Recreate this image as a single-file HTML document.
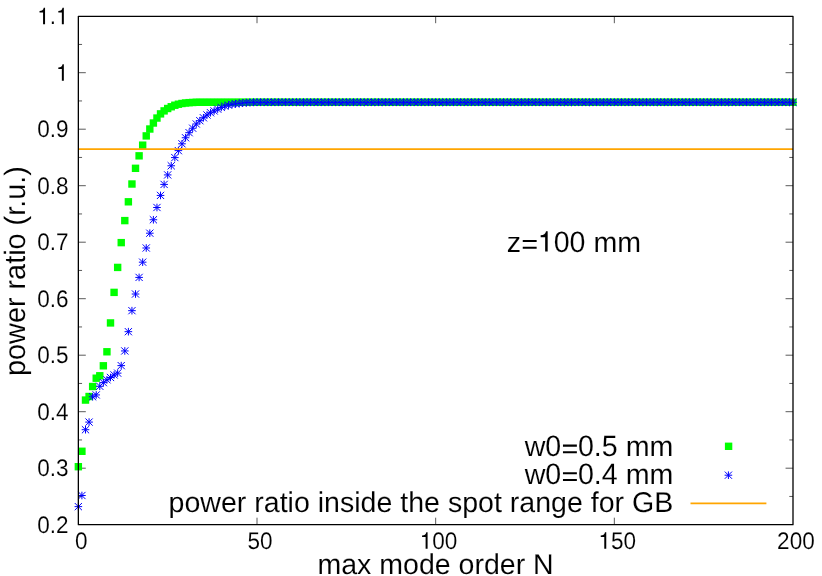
<!DOCTYPE html>
<html><head><meta charset="utf-8"><title>power ratio</title>
<style>html,body{margin:0;padding:0;background:#fff;}svg{display:block;will-change:transform;}text{font-family:"Liberation Sans",sans-serif;fill:#000;text-rendering:geometricPrecision;white-space:pre;stroke:#fff;stroke-width:0.1px;paint-order:fill stroke;}</style></head><body>
<svg width="822" height="576" viewBox="0 0 822 576">
<rect x="0" y="0" width="822" height="576" fill="#ffffff"/>
<path d="M78.35 496.45h3.70M793.00 496.45h-3.70M78.35 468.20h7.45M793.00 468.20h-7.45M78.35 439.95h3.70M793.00 439.95h-3.70M78.35 411.70h7.45M793.00 411.70h-7.45M78.35 383.45h3.70M793.00 383.45h-3.70M78.35 355.20h7.45M793.00 355.20h-7.45M78.35 326.95h3.70M793.00 326.95h-3.70M78.35 298.70h7.45M793.00 298.70h-7.45M78.35 270.45h3.70M793.00 270.45h-3.70M78.35 242.20h7.45M793.00 242.20h-7.45M78.35 213.95h3.70M793.00 213.95h-3.70M78.35 185.70h7.45M793.00 185.70h-7.45M78.35 157.45h3.70M793.00 157.45h-3.70M78.35 129.20h7.45M793.00 129.20h-7.45M78.35 100.95h3.70M793.00 100.95h-3.70M78.35 72.70h7.45M793.00 72.70h-7.45M78.35 44.45h3.70M793.00 44.45h-3.70M257.01 524.70v-7.00M257.01 16.20v7.00M435.67 524.70v-7.00M435.67 16.20v7.00M614.34 524.70v-7.00M614.34 16.20v7.00" stroke="#000" stroke-width="0.65" fill="none"/>
<g transform="translate(68.55 532.80)"><text transform="translate(-31.32 0) scale(0.967 1.027)" font-size="23.3">0</text><text transform="translate(-18.79 0) scale(0.967 1)" font-size="23.3">.</text><text transform="translate(-12.53 0) scale(0.967 1.027)" font-size="23.3">2</text></g>
<g transform="translate(68.55 476.30)"><text transform="translate(-31.32 0) scale(0.967 1.027)" font-size="23.3">0</text><text transform="translate(-18.79 0) scale(0.967 1)" font-size="23.3">.</text><text transform="translate(-12.53 0) scale(0.967 1.027)" font-size="23.3">3</text></g>
<g transform="translate(68.55 419.80)"><text transform="translate(-31.32 0) scale(0.967 1.027)" font-size="23.3">0</text><text transform="translate(-18.79 0) scale(0.967 1)" font-size="23.3">.</text><text transform="translate(-12.53 0) scale(0.967 1.027)" font-size="23.3">4</text></g>
<g transform="translate(68.55 363.30)"><text transform="translate(-31.32 0) scale(0.967 1.027)" font-size="23.3">0</text><text transform="translate(-18.79 0) scale(0.967 1)" font-size="23.3">.</text><text transform="translate(-12.53 0) scale(0.967 1.027)" font-size="23.3">5</text></g>
<g transform="translate(68.55 306.80)"><text transform="translate(-31.32 0) scale(0.967 1.027)" font-size="23.3">0</text><text transform="translate(-18.79 0) scale(0.967 1)" font-size="23.3">.</text><text transform="translate(-12.53 0) scale(0.967 1.027)" font-size="23.3">6</text></g>
<g transform="translate(68.55 250.30)"><text transform="translate(-31.32 0) scale(0.967 1.027)" font-size="23.3">0</text><text transform="translate(-18.79 0) scale(0.967 1)" font-size="23.3">.</text><text transform="translate(-12.53 0) scale(0.967 1.027)" font-size="23.3">7</text></g>
<g transform="translate(68.55 193.80)"><text transform="translate(-31.32 0) scale(0.967 1.027)" font-size="23.3">0</text><text transform="translate(-18.79 0) scale(0.967 1)" font-size="23.3">.</text><text transform="translate(-12.53 0) scale(0.967 1.027)" font-size="23.3">8</text></g>
<g transform="translate(68.55 137.30)"><text transform="translate(-31.32 0) scale(0.967 1.027)" font-size="23.3">0</text><text transform="translate(-18.79 0) scale(0.967 1)" font-size="23.3">.</text><text transform="translate(-12.53 0) scale(0.967 1.027)" font-size="23.3">9</text></g>
<g transform="translate(68.55 80.80)"><path transform="translate(-12.53 0) scale(0.02253 -0.02330)" d="M102 505H259V0H347V709H290C270 620 210 572 102 568Z"/></g>
<g transform="translate(68.55 24.30)"><path transform="translate(-31.32 0) scale(0.02253 -0.02330)" d="M102 505H259V0H347V709H290C270 620 210 572 102 568Z"/><text transform="translate(-18.79 0) scale(0.967 1)" font-size="23.3">.</text><path transform="translate(-12.53 0) scale(0.02253 -0.02330)" d="M102 505H259V0H347V709H290C270 620 210 572 102 568Z"/></g>
<g transform="translate(81.25 548.75)"><text transform="translate(-6.27 0) scale(0.967 1.027)" font-size="23.3">0</text></g>
<g transform="translate(259.91 548.75)"><text transform="translate(-12.53 0) scale(0.967 1.027)" font-size="23.3">50</text></g>
<g transform="translate(438.57 548.75)"><path transform="translate(-18.80 0) scale(0.02253 -0.02330)" d="M102 505H259V0H347V709H290C270 620 210 572 102 568Z"/><text transform="translate(-6.27 0) scale(0.967 1.027)" font-size="23.3">00</text></g>
<g transform="translate(617.24 548.75)"><path transform="translate(-18.80 0) scale(0.02253 -0.02330)" d="M102 505H259V0H347V709H290C270 620 210 572 102 568Z"/><text transform="translate(-6.27 0) scale(0.967 1.027)" font-size="23.3">50</text></g>
<g transform="translate(795.90 548.75)"><text transform="translate(-18.80 0) scale(0.967 1.027)" font-size="23.3">200</text></g>
<g transform="translate(435.60 573.90)"><text transform="translate(-118.18 0) scale(0.998 1)" font-size="28.6">max&#160;mode&#160;order&#160;N</text></g>
<g transform="translate(24.90 270.25) rotate(-90)"><text transform="translate(-105.74 0) scale(1.008 1.03)" font-size="28.6">power&#160;ratio&#160;(r.u.)</text></g>
<g transform="translate(573.90 251.60)"><text transform="translate(-67.16 0) scale(1 1)" font-size="28.6">z</text><path transform="translate(-52.86 0) scale(0.02860 -0.02860)" d="M60 100H546V172H60ZM60 334H546V406H60Z"/><path transform="translate(-36.15 0) scale(0.02860 -0.02860)" d="M102 505H259V0H347V709H290C270 620 210 572 102 568Z"/><text transform="translate(-20.25 0) scale(1 1.027)" font-size="28.6">00</text><text transform="translate(11.56 0) scale(1 1)" font-size="28.6">&#160;mm</text></g>
<g fill="#00ff00">
<rect x="74.65" y="463.00" width="7.4" height="7.4"/>
<rect x="78.22" y="447.58" width="7.4" height="7.4"/>
<rect x="81.80" y="396.37" width="7.4" height="7.4"/>
<rect x="85.37" y="392.81" width="7.4" height="7.4"/>
<rect x="88.94" y="382.81" width="7.4" height="7.4"/>
<rect x="92.52" y="374.51" width="7.4" height="7.4"/>
<rect x="96.09" y="372.08" width="7.4" height="7.4"/>
<rect x="99.66" y="362.09" width="7.4" height="7.4"/>
<rect x="103.24" y="348.08" width="7.4" height="7.4"/>
<rect x="106.81" y="319.23" width="7.4" height="7.4"/>
<rect x="110.38" y="288.68" width="7.4" height="7.4"/>
<rect x="113.96" y="263.72" width="7.4" height="7.4"/>
<rect x="117.53" y="238.93" width="7.4" height="7.4"/>
<rect x="121.10" y="216.90" width="7.4" height="7.4"/>
<rect x="124.68" y="198.10" width="7.4" height="7.4"/>
<rect x="128.25" y="180.31" width="7.4" height="7.4"/>
<rect x="131.82" y="164.61" width="7.4" height="7.4"/>
<rect x="135.40" y="152.13" width="7.4" height="7.4"/>
<rect x="138.97" y="141.46" width="7.4" height="7.4"/>
<rect x="142.54" y="132.20" width="7.4" height="7.4"/>
<rect x="146.12" y="125.31" width="7.4" height="7.4"/>
<rect x="149.69" y="119.32" width="7.4" height="7.4"/>
<rect x="153.26" y="114.35" width="7.4" height="7.4"/>
<rect x="156.83" y="110.18" width="7.4" height="7.4"/>
<rect x="160.41" y="107.18" width="7.4" height="7.4"/>
<rect x="163.98" y="104.81" width="7.4" height="7.4"/>
<rect x="167.55" y="103.06" width="7.4" height="7.4"/>
<rect x="171.13" y="101.54" width="7.4" height="7.4"/>
<rect x="174.70" y="100.52" width="7.4" height="7.4"/>
<rect x="178.27" y="99.79" width="7.4" height="7.4"/>
<rect x="181.85" y="99.28" width="7.4" height="7.4"/>
<rect x="185.42" y="98.94" width="7.4" height="7.4"/>
<rect x="188.99" y="98.77" width="7.4" height="7.4"/>
<rect x="192.57" y="98.60" width="7.4" height="7.4"/>
<rect x="196.14" y="98.60" width="7.4" height="7.4"/>
<rect x="199.71" y="98.60" width="7.4" height="7.4"/>
<rect x="203.29" y="98.60" width="7.4" height="7.4"/>
<rect x="206.86" y="98.60" width="7.4" height="7.4"/>
<rect x="210.43" y="98.60" width="7.4" height="7.4"/>
<rect x="214.01" y="98.60" width="7.4" height="7.4"/>
<rect x="217.58" y="98.60" width="7.4" height="7.4"/>
<rect x="221.15" y="98.60" width="7.4" height="7.4"/>
<rect x="224.73" y="98.60" width="7.4" height="7.4"/>
<rect x="228.30" y="98.60" width="7.4" height="7.4"/>
<rect x="231.87" y="98.60" width="7.4" height="7.4"/>
<rect x="235.45" y="98.60" width="7.4" height="7.4"/>
<rect x="239.02" y="98.60" width="7.4" height="7.4"/>
<rect x="242.59" y="98.60" width="7.4" height="7.4"/>
<rect x="246.17" y="98.60" width="7.4" height="7.4"/>
<rect x="249.74" y="98.60" width="7.4" height="7.4"/>
<rect x="253.31" y="98.60" width="7.4" height="7.4"/>
<rect x="256.89" y="98.60" width="7.4" height="7.4"/>
<rect x="260.46" y="98.60" width="7.4" height="7.4"/>
<rect x="264.03" y="98.60" width="7.4" height="7.4"/>
<rect x="267.61" y="98.60" width="7.4" height="7.4"/>
<rect x="271.18" y="98.60" width="7.4" height="7.4"/>
<rect x="274.75" y="98.60" width="7.4" height="7.4"/>
<rect x="278.33" y="98.60" width="7.4" height="7.4"/>
<rect x="281.90" y="98.60" width="7.4" height="7.4"/>
<rect x="285.47" y="98.60" width="7.4" height="7.4"/>
<rect x="289.05" y="98.60" width="7.4" height="7.4"/>
<rect x="292.62" y="98.60" width="7.4" height="7.4"/>
<rect x="296.19" y="98.60" width="7.4" height="7.4"/>
<rect x="299.76" y="98.60" width="7.4" height="7.4"/>
<rect x="303.34" y="98.60" width="7.4" height="7.4"/>
<rect x="306.91" y="98.60" width="7.4" height="7.4"/>
<rect x="310.48" y="98.60" width="7.4" height="7.4"/>
<rect x="314.06" y="98.60" width="7.4" height="7.4"/>
<rect x="317.63" y="98.60" width="7.4" height="7.4"/>
<rect x="321.20" y="98.60" width="7.4" height="7.4"/>
<rect x="324.78" y="98.60" width="7.4" height="7.4"/>
<rect x="328.35" y="98.60" width="7.4" height="7.4"/>
<rect x="331.92" y="98.60" width="7.4" height="7.4"/>
<rect x="335.50" y="98.60" width="7.4" height="7.4"/>
<rect x="339.07" y="98.60" width="7.4" height="7.4"/>
<rect x="342.64" y="98.60" width="7.4" height="7.4"/>
<rect x="346.22" y="98.60" width="7.4" height="7.4"/>
<rect x="349.79" y="98.60" width="7.4" height="7.4"/>
<rect x="353.36" y="98.60" width="7.4" height="7.4"/>
<rect x="356.94" y="98.60" width="7.4" height="7.4"/>
<rect x="360.51" y="98.60" width="7.4" height="7.4"/>
<rect x="364.08" y="98.60" width="7.4" height="7.4"/>
<rect x="367.66" y="98.60" width="7.4" height="7.4"/>
<rect x="371.23" y="98.60" width="7.4" height="7.4"/>
<rect x="374.80" y="98.60" width="7.4" height="7.4"/>
<rect x="378.38" y="98.60" width="7.4" height="7.4"/>
<rect x="381.95" y="98.60" width="7.4" height="7.4"/>
<rect x="385.52" y="98.60" width="7.4" height="7.4"/>
<rect x="389.10" y="98.60" width="7.4" height="7.4"/>
<rect x="392.67" y="98.60" width="7.4" height="7.4"/>
<rect x="396.24" y="98.60" width="7.4" height="7.4"/>
<rect x="399.82" y="98.60" width="7.4" height="7.4"/>
<rect x="403.39" y="98.60" width="7.4" height="7.4"/>
<rect x="406.96" y="98.60" width="7.4" height="7.4"/>
<rect x="410.54" y="98.60" width="7.4" height="7.4"/>
<rect x="414.11" y="98.60" width="7.4" height="7.4"/>
<rect x="417.68" y="98.60" width="7.4" height="7.4"/>
<rect x="421.26" y="98.60" width="7.4" height="7.4"/>
<rect x="424.83" y="98.60" width="7.4" height="7.4"/>
<rect x="428.40" y="98.60" width="7.4" height="7.4"/>
<rect x="431.97" y="98.60" width="7.4" height="7.4"/>
<rect x="435.55" y="98.60" width="7.4" height="7.4"/>
<rect x="439.12" y="98.60" width="7.4" height="7.4"/>
<rect x="442.69" y="98.60" width="7.4" height="7.4"/>
<rect x="446.27" y="98.60" width="7.4" height="7.4"/>
<rect x="449.84" y="98.60" width="7.4" height="7.4"/>
<rect x="453.41" y="98.60" width="7.4" height="7.4"/>
<rect x="456.99" y="98.60" width="7.4" height="7.4"/>
<rect x="460.56" y="98.60" width="7.4" height="7.4"/>
<rect x="464.13" y="98.60" width="7.4" height="7.4"/>
<rect x="467.71" y="98.60" width="7.4" height="7.4"/>
<rect x="471.28" y="98.60" width="7.4" height="7.4"/>
<rect x="474.85" y="98.60" width="7.4" height="7.4"/>
<rect x="478.43" y="98.60" width="7.4" height="7.4"/>
<rect x="482.00" y="98.60" width="7.4" height="7.4"/>
<rect x="485.57" y="98.60" width="7.4" height="7.4"/>
<rect x="489.15" y="98.60" width="7.4" height="7.4"/>
<rect x="492.72" y="98.60" width="7.4" height="7.4"/>
<rect x="496.29" y="98.60" width="7.4" height="7.4"/>
<rect x="499.87" y="98.60" width="7.4" height="7.4"/>
<rect x="503.44" y="98.60" width="7.4" height="7.4"/>
<rect x="507.01" y="98.60" width="7.4" height="7.4"/>
<rect x="510.59" y="98.60" width="7.4" height="7.4"/>
<rect x="514.16" y="98.60" width="7.4" height="7.4"/>
<rect x="517.73" y="98.60" width="7.4" height="7.4"/>
<rect x="521.31" y="98.60" width="7.4" height="7.4"/>
<rect x="524.88" y="98.60" width="7.4" height="7.4"/>
<rect x="528.45" y="98.60" width="7.4" height="7.4"/>
<rect x="532.03" y="98.60" width="7.4" height="7.4"/>
<rect x="535.60" y="98.60" width="7.4" height="7.4"/>
<rect x="539.17" y="98.60" width="7.4" height="7.4"/>
<rect x="542.75" y="98.60" width="7.4" height="7.4"/>
<rect x="546.32" y="98.60" width="7.4" height="7.4"/>
<rect x="549.89" y="98.60" width="7.4" height="7.4"/>
<rect x="553.47" y="98.60" width="7.4" height="7.4"/>
<rect x="557.04" y="98.60" width="7.4" height="7.4"/>
<rect x="560.61" y="98.60" width="7.4" height="7.4"/>
<rect x="564.19" y="98.60" width="7.4" height="7.4"/>
<rect x="567.76" y="98.60" width="7.4" height="7.4"/>
<rect x="571.33" y="98.60" width="7.4" height="7.4"/>
<rect x="574.90" y="98.60" width="7.4" height="7.4"/>
<rect x="578.48" y="98.60" width="7.4" height="7.4"/>
<rect x="582.05" y="98.60" width="7.4" height="7.4"/>
<rect x="585.62" y="98.60" width="7.4" height="7.4"/>
<rect x="589.20" y="98.60" width="7.4" height="7.4"/>
<rect x="592.77" y="98.60" width="7.4" height="7.4"/>
<rect x="596.34" y="98.60" width="7.4" height="7.4"/>
<rect x="599.92" y="98.60" width="7.4" height="7.4"/>
<rect x="603.49" y="98.60" width="7.4" height="7.4"/>
<rect x="607.06" y="98.60" width="7.4" height="7.4"/>
<rect x="610.64" y="98.60" width="7.4" height="7.4"/>
<rect x="614.21" y="98.60" width="7.4" height="7.4"/>
<rect x="617.78" y="98.60" width="7.4" height="7.4"/>
<rect x="621.36" y="98.60" width="7.4" height="7.4"/>
<rect x="624.93" y="98.60" width="7.4" height="7.4"/>
<rect x="628.50" y="98.60" width="7.4" height="7.4"/>
<rect x="632.08" y="98.60" width="7.4" height="7.4"/>
<rect x="635.65" y="98.60" width="7.4" height="7.4"/>
<rect x="639.22" y="98.60" width="7.4" height="7.4"/>
<rect x="642.80" y="98.60" width="7.4" height="7.4"/>
<rect x="646.37" y="98.60" width="7.4" height="7.4"/>
<rect x="649.94" y="98.60" width="7.4" height="7.4"/>
<rect x="653.52" y="98.60" width="7.4" height="7.4"/>
<rect x="657.09" y="98.60" width="7.4" height="7.4"/>
<rect x="660.66" y="98.60" width="7.4" height="7.4"/>
<rect x="664.24" y="98.60" width="7.4" height="7.4"/>
<rect x="667.81" y="98.60" width="7.4" height="7.4"/>
<rect x="671.38" y="98.60" width="7.4" height="7.4"/>
<rect x="674.96" y="98.60" width="7.4" height="7.4"/>
<rect x="678.53" y="98.60" width="7.4" height="7.4"/>
<rect x="682.10" y="98.60" width="7.4" height="7.4"/>
<rect x="685.68" y="98.60" width="7.4" height="7.4"/>
<rect x="689.25" y="98.60" width="7.4" height="7.4"/>
<rect x="692.82" y="98.60" width="7.4" height="7.4"/>
<rect x="696.40" y="98.60" width="7.4" height="7.4"/>
<rect x="699.97" y="98.60" width="7.4" height="7.4"/>
<rect x="703.54" y="98.60" width="7.4" height="7.4"/>
<rect x="707.12" y="98.60" width="7.4" height="7.4"/>
<rect x="710.69" y="98.60" width="7.4" height="7.4"/>
<rect x="714.26" y="98.60" width="7.4" height="7.4"/>
<rect x="717.83" y="98.60" width="7.4" height="7.4"/>
<rect x="721.41" y="98.60" width="7.4" height="7.4"/>
<rect x="724.98" y="98.60" width="7.4" height="7.4"/>
<rect x="728.55" y="98.60" width="7.4" height="7.4"/>
<rect x="732.13" y="98.60" width="7.4" height="7.4"/>
<rect x="735.70" y="98.60" width="7.4" height="7.4"/>
<rect x="739.27" y="98.60" width="7.4" height="7.4"/>
<rect x="742.85" y="98.60" width="7.4" height="7.4"/>
<rect x="746.42" y="98.60" width="7.4" height="7.4"/>
<rect x="749.99" y="98.60" width="7.4" height="7.4"/>
<rect x="753.57" y="98.60" width="7.4" height="7.4"/>
<rect x="757.14" y="98.60" width="7.4" height="7.4"/>
<rect x="760.71" y="98.60" width="7.4" height="7.4"/>
<rect x="764.29" y="98.60" width="7.4" height="7.4"/>
<rect x="767.86" y="98.60" width="7.4" height="7.4"/>
<rect x="771.43" y="98.60" width="7.4" height="7.4"/>
<rect x="775.01" y="98.60" width="7.4" height="7.4"/>
<rect x="778.58" y="98.60" width="7.4" height="7.4"/>
<rect x="782.15" y="98.60" width="7.4" height="7.4"/>
<rect x="785.73" y="98.60" width="7.4" height="7.4"/>
<rect x="789.30" y="98.60" width="7.4" height="7.4"/>
<rect x="724.90" y="442.60" width="7.4" height="7.4"/>
</g>
<path d="M74.55 506.62h7.60M78.35 502.82v7.60M74.74 503.01l7.22 7.22M74.74 510.23l7.22 -7.22M78.12 495.50h7.60M81.92 491.70v7.60M78.31 491.89l7.22 7.22M78.31 499.11l7.22 -7.22M81.70 429.71h7.60M85.50 425.91v7.60M81.89 426.10l7.22 7.22M81.89 433.32l7.22 -7.22M85.27 422.09h7.60M89.07 418.29v7.60M85.46 418.48l7.22 7.22M85.46 425.70l7.22 -7.22M88.84 396.79h7.60M92.64 392.99v7.60M89.03 393.18l7.22 7.22M89.03 400.40l7.22 -7.22M92.42 394.93h7.60M96.22 391.13v7.60M92.61 391.32l7.22 7.22M92.61 398.54l7.22 -7.22M95.99 386.29h7.60M99.79 382.49v7.60M96.18 382.68l7.22 7.22M96.18 389.90l7.22 -7.22M99.56 382.62h7.60M103.36 378.82v7.60M99.75 379.01l7.22 7.22M99.75 386.23l7.22 -7.22M103.14 379.79h7.60M106.94 375.99v7.60M103.33 376.18l7.22 7.22M103.33 383.40l7.22 -7.22M106.71 377.48h7.60M110.51 373.68v7.60M106.90 373.87l7.22 7.22M106.90 381.09l7.22 -7.22M110.28 374.94h7.60M114.08 371.14v7.60M110.47 371.33l7.22 7.22M110.47 378.55l7.22 -7.22M113.86 373.13h7.60M117.66 369.33v7.60M114.05 369.52l7.22 7.22M114.05 376.74l7.22 -7.22M117.43 365.62h7.60M121.23 361.82v7.60M117.62 362.01l7.22 7.22M117.62 369.23l7.22 -7.22M121.00 350.94h7.60M124.80 347.14v7.60M121.19 347.33l7.22 7.22M121.19 354.55l7.22 -7.22M124.58 331.68h7.60M128.38 327.88v7.60M124.77 328.07l7.22 7.22M124.77 335.29l7.22 -7.22M128.15 310.67h7.60M131.95 306.87v7.60M128.34 307.06l7.22 7.22M128.34 314.28l7.22 -7.22M131.72 294.02h7.60M135.52 290.22v7.60M131.91 290.41l7.22 7.22M131.91 297.63l7.22 -7.22M135.30 277.41h7.60M139.10 273.61v7.60M135.49 273.80l7.22 7.22M135.49 281.02l7.22 -7.22M138.87 262.17h7.60M142.67 258.37v7.60M139.06 258.56l7.22 7.22M139.06 265.78l7.22 -7.22M142.44 247.99h7.60M146.24 244.19v7.60M142.63 244.38l7.22 7.22M142.63 251.60l7.22 -7.22M146.01 233.20h7.60M149.81 229.40v7.60M146.20 229.59l7.22 7.22M146.20 236.81l7.22 -7.22M149.59 219.76h7.60M153.39 215.96v7.60M149.78 216.15l7.22 7.22M149.78 223.37l7.22 -7.22M153.16 207.50h7.60M156.96 203.70v7.60M153.35 203.89l7.22 7.22M153.35 211.11l7.22 -7.22M156.73 195.42h7.60M160.53 191.62v7.60M156.92 191.81l7.22 7.22M156.92 199.03l7.22 -7.22M160.31 184.41h7.60M164.11 180.61v7.60M160.50 180.80l7.22 7.22M160.50 188.02l7.22 -7.22M163.88 174.92h7.60M167.68 171.12v7.60M164.07 171.31l7.22 7.22M164.07 178.53l7.22 -7.22M167.45 165.77h7.60M171.25 161.97v7.60M167.64 162.16l7.22 7.22M167.64 169.38l7.22 -7.22M171.03 157.58h7.60M174.83 153.78v7.60M171.22 153.97l7.22 7.22M171.22 161.19l7.22 -7.22M174.60 150.64h7.60M178.40 146.84v7.60M174.79 147.03l7.22 7.22M174.79 154.25l7.22 -7.22M178.17 143.81h7.60M181.97 140.01v7.60M178.36 140.20l7.22 7.22M178.36 147.42l7.22 -7.22M181.75 137.76h7.60M185.55 133.96v7.60M181.94 134.15l7.22 7.22M181.94 141.37l7.22 -7.22M185.32 132.68h7.60M189.12 128.88v7.60M185.51 129.07l7.22 7.22M185.51 136.29l7.22 -7.22M188.89 128.22h7.60M192.69 124.42v7.60M189.08 124.61l7.22 7.22M189.08 131.83l7.22 -7.22M192.47 123.98h7.60M196.27 120.18v7.60M192.66 120.37l7.22 7.22M192.66 127.59l7.22 -7.22M196.04 120.71h7.60M199.84 116.91v7.60M196.23 117.10l7.22 7.22M196.23 124.32l7.22 -7.22M199.61 117.77h7.60M203.41 113.97v7.60M199.80 114.16l7.22 7.22M199.80 121.38l7.22 -7.22M203.19 115.01h7.60M206.99 111.21v7.60M203.38 111.40l7.22 7.22M203.38 118.62l7.22 -7.22M206.76 112.75h7.60M210.56 108.95v7.60M206.95 109.14l7.22 7.22M206.95 116.36l7.22 -7.22M210.33 110.94h7.60M214.13 107.14v7.60M210.52 107.33l7.22 7.22M210.52 114.55l7.22 -7.22M213.91 109.13h7.60M217.71 105.33v7.60M214.10 105.52l7.22 7.22M214.10 112.74l7.22 -7.22M217.48 107.44h7.60M221.28 103.64v7.60M217.67 103.83l7.22 7.22M217.67 111.05l7.22 -7.22M221.05 106.14h7.60M224.85 102.34v7.60M221.24 102.53l7.22 7.22M221.24 109.75l7.22 -7.22M224.63 105.12h7.60M228.43 101.32v7.60M224.82 101.51l7.22 7.22M224.82 108.73l7.22 -7.22M228.20 104.39h7.60M232.00 100.59v7.60M228.39 100.78l7.22 7.22M228.39 108.00l7.22 -7.22M231.77 103.82h7.60M235.57 100.02v7.60M231.96 100.21l7.22 7.22M231.96 107.43l7.22 -7.22M235.35 103.43h7.60M239.15 99.63v7.60M235.54 99.82l7.22 7.22M235.54 107.04l7.22 -7.22M238.92 102.98h7.60M242.72 99.18v7.60M239.11 99.37l7.22 7.22M239.11 106.59l7.22 -7.22M242.49 102.64h7.60M246.29 98.84v7.60M242.68 99.03l7.22 7.22M242.68 106.25l7.22 -7.22M246.07 102.47h7.60M249.87 98.67v7.60M246.26 98.86l7.22 7.22M246.26 106.08l7.22 -7.22M249.64 102.36h7.60M253.44 98.56v7.60M249.83 98.75l7.22 7.22M249.83 105.97l7.22 -7.22M253.21 102.30h7.60M257.01 98.50v7.60M253.40 98.69l7.22 7.22M253.40 105.91l7.22 -7.22M256.79 102.30h7.60M260.59 98.50v7.60M256.98 98.69l7.22 7.22M256.98 105.91l7.22 -7.22M260.36 102.30h7.60M264.16 98.50v7.60M260.55 98.69l7.22 7.22M260.55 105.91l7.22 -7.22M263.93 102.30h7.60M267.73 98.50v7.60M264.12 98.69l7.22 7.22M264.12 105.91l7.22 -7.22M267.51 102.30h7.60M271.31 98.50v7.60M267.70 98.69l7.22 7.22M267.70 105.91l7.22 -7.22M271.08 102.30h7.60M274.88 98.50v7.60M271.27 98.69l7.22 7.22M271.27 105.91l7.22 -7.22M274.65 102.30h7.60M278.45 98.50v7.60M274.84 98.69l7.22 7.22M274.84 105.91l7.22 -7.22M278.23 102.30h7.60M282.03 98.50v7.60M278.42 98.69l7.22 7.22M278.42 105.91l7.22 -7.22M281.80 102.30h7.60M285.60 98.50v7.60M281.99 98.69l7.22 7.22M281.99 105.91l7.22 -7.22M285.37 102.30h7.60M289.17 98.50v7.60M285.56 98.69l7.22 7.22M285.56 105.91l7.22 -7.22M288.94 102.30h7.60M292.75 98.50v7.60M289.13 98.69l7.22 7.22M289.13 105.91l7.22 -7.22M292.52 102.30h7.60M296.32 98.50v7.60M292.71 98.69l7.22 7.22M292.71 105.91l7.22 -7.22M296.09 102.30h7.60M299.89 98.50v7.60M296.28 98.69l7.22 7.22M296.28 105.91l7.22 -7.22M299.66 102.30h7.60M303.46 98.50v7.60M299.85 98.69l7.22 7.22M299.85 105.91l7.22 -7.22M303.24 102.30h7.60M307.04 98.50v7.60M303.43 98.69l7.22 7.22M303.43 105.91l7.22 -7.22M306.81 102.30h7.60M310.61 98.50v7.60M307.00 98.69l7.22 7.22M307.00 105.91l7.22 -7.22M310.38 102.30h7.60M314.18 98.50v7.60M310.57 98.69l7.22 7.22M310.57 105.91l7.22 -7.22M313.96 102.30h7.60M317.76 98.50v7.60M314.15 98.69l7.22 7.22M314.15 105.91l7.22 -7.22M317.53 102.30h7.60M321.33 98.50v7.60M317.72 98.69l7.22 7.22M317.72 105.91l7.22 -7.22M321.10 102.30h7.60M324.90 98.50v7.60M321.29 98.69l7.22 7.22M321.29 105.91l7.22 -7.22M324.68 102.30h7.60M328.48 98.50v7.60M324.87 98.69l7.22 7.22M324.87 105.91l7.22 -7.22M328.25 102.30h7.60M332.05 98.50v7.60M328.44 98.69l7.22 7.22M328.44 105.91l7.22 -7.22M331.82 102.30h7.60M335.62 98.50v7.60M332.01 98.69l7.22 7.22M332.01 105.91l7.22 -7.22M335.40 102.30h7.60M339.20 98.50v7.60M335.59 98.69l7.22 7.22M335.59 105.91l7.22 -7.22M338.97 102.30h7.60M342.77 98.50v7.60M339.16 98.69l7.22 7.22M339.16 105.91l7.22 -7.22M342.54 102.30h7.60M346.34 98.50v7.60M342.73 98.69l7.22 7.22M342.73 105.91l7.22 -7.22M346.12 102.30h7.60M349.92 98.50v7.60M346.31 98.69l7.22 7.22M346.31 105.91l7.22 -7.22M349.69 102.30h7.60M353.49 98.50v7.60M349.88 98.69l7.22 7.22M349.88 105.91l7.22 -7.22M353.26 102.30h7.60M357.06 98.50v7.60M353.45 98.69l7.22 7.22M353.45 105.91l7.22 -7.22M356.84 102.30h7.60M360.64 98.50v7.60M357.03 98.69l7.22 7.22M357.03 105.91l7.22 -7.22M360.41 102.30h7.60M364.21 98.50v7.60M360.60 98.69l7.22 7.22M360.60 105.91l7.22 -7.22M363.98 102.30h7.60M367.78 98.50v7.60M364.17 98.69l7.22 7.22M364.17 105.91l7.22 -7.22M367.56 102.30h7.60M371.36 98.50v7.60M367.75 98.69l7.22 7.22M367.75 105.91l7.22 -7.22M371.13 102.30h7.60M374.93 98.50v7.60M371.32 98.69l7.22 7.22M371.32 105.91l7.22 -7.22M374.70 102.30h7.60M378.50 98.50v7.60M374.89 98.69l7.22 7.22M374.89 105.91l7.22 -7.22M378.28 102.30h7.60M382.08 98.50v7.60M378.47 98.69l7.22 7.22M378.47 105.91l7.22 -7.22M381.85 102.30h7.60M385.65 98.50v7.60M382.04 98.69l7.22 7.22M382.04 105.91l7.22 -7.22M385.42 102.30h7.60M389.22 98.50v7.60M385.61 98.69l7.22 7.22M385.61 105.91l7.22 -7.22M389.00 102.30h7.60M392.80 98.50v7.60M389.19 98.69l7.22 7.22M389.19 105.91l7.22 -7.22M392.57 102.30h7.60M396.37 98.50v7.60M392.76 98.69l7.22 7.22M392.76 105.91l7.22 -7.22M396.14 102.30h7.60M399.94 98.50v7.60M396.33 98.69l7.22 7.22M396.33 105.91l7.22 -7.22M399.72 102.30h7.60M403.52 98.50v7.60M399.91 98.69l7.22 7.22M399.91 105.91l7.22 -7.22M403.29 102.30h7.60M407.09 98.50v7.60M403.48 98.69l7.22 7.22M403.48 105.91l7.22 -7.22M406.86 102.30h7.60M410.66 98.50v7.60M407.05 98.69l7.22 7.22M407.05 105.91l7.22 -7.22M410.44 102.30h7.60M414.24 98.50v7.60M410.63 98.69l7.22 7.22M410.63 105.91l7.22 -7.22M414.01 102.30h7.60M417.81 98.50v7.60M414.20 98.69l7.22 7.22M414.20 105.91l7.22 -7.22M417.58 102.30h7.60M421.38 98.50v7.60M417.77 98.69l7.22 7.22M417.77 105.91l7.22 -7.22M421.16 102.30h7.60M424.96 98.50v7.60M421.35 98.69l7.22 7.22M421.35 105.91l7.22 -7.22M424.73 102.30h7.60M428.53 98.50v7.60M424.92 98.69l7.22 7.22M424.92 105.91l7.22 -7.22M428.30 102.30h7.60M432.10 98.50v7.60M428.49 98.69l7.22 7.22M428.49 105.91l7.22 -7.22M431.87 102.30h7.60M435.67 98.50v7.60M432.06 98.69l7.22 7.22M432.06 105.91l7.22 -7.22M435.45 102.30h7.60M439.25 98.50v7.60M435.64 98.69l7.22 7.22M435.64 105.91l7.22 -7.22M439.02 102.30h7.60M442.82 98.50v7.60M439.21 98.69l7.22 7.22M439.21 105.91l7.22 -7.22M442.59 102.30h7.60M446.39 98.50v7.60M442.78 98.69l7.22 7.22M442.78 105.91l7.22 -7.22M446.17 102.30h7.60M449.97 98.50v7.60M446.36 98.69l7.22 7.22M446.36 105.91l7.22 -7.22M449.74 102.30h7.60M453.54 98.50v7.60M449.93 98.69l7.22 7.22M449.93 105.91l7.22 -7.22M453.31 102.30h7.60M457.11 98.50v7.60M453.50 98.69l7.22 7.22M453.50 105.91l7.22 -7.22M456.89 102.30h7.60M460.69 98.50v7.60M457.08 98.69l7.22 7.22M457.08 105.91l7.22 -7.22M460.46 102.30h7.60M464.26 98.50v7.60M460.65 98.69l7.22 7.22M460.65 105.91l7.22 -7.22M464.03 102.30h7.60M467.83 98.50v7.60M464.22 98.69l7.22 7.22M464.22 105.91l7.22 -7.22M467.61 102.30h7.60M471.41 98.50v7.60M467.80 98.69l7.22 7.22M467.80 105.91l7.22 -7.22M471.18 102.30h7.60M474.98 98.50v7.60M471.37 98.69l7.22 7.22M471.37 105.91l7.22 -7.22M474.75 102.30h7.60M478.55 98.50v7.60M474.94 98.69l7.22 7.22M474.94 105.91l7.22 -7.22M478.33 102.30h7.60M482.13 98.50v7.60M478.52 98.69l7.22 7.22M478.52 105.91l7.22 -7.22M481.90 102.30h7.60M485.70 98.50v7.60M482.09 98.69l7.22 7.22M482.09 105.91l7.22 -7.22M485.47 102.30h7.60M489.27 98.50v7.60M485.66 98.69l7.22 7.22M485.66 105.91l7.22 -7.22M489.05 102.30h7.60M492.85 98.50v7.60M489.24 98.69l7.22 7.22M489.24 105.91l7.22 -7.22M492.62 102.30h7.60M496.42 98.50v7.60M492.81 98.69l7.22 7.22M492.81 105.91l7.22 -7.22M496.19 102.30h7.60M499.99 98.50v7.60M496.38 98.69l7.22 7.22M496.38 105.91l7.22 -7.22M499.77 102.30h7.60M503.57 98.50v7.60M499.96 98.69l7.22 7.22M499.96 105.91l7.22 -7.22M503.34 102.30h7.60M507.14 98.50v7.60M503.53 98.69l7.22 7.22M503.53 105.91l7.22 -7.22M506.91 102.30h7.60M510.71 98.50v7.60M507.10 98.69l7.22 7.22M507.10 105.91l7.22 -7.22M510.49 102.30h7.60M514.29 98.50v7.60M510.68 98.69l7.22 7.22M510.68 105.91l7.22 -7.22M514.06 102.30h7.60M517.86 98.50v7.60M514.25 98.69l7.22 7.22M514.25 105.91l7.22 -7.22M517.63 102.30h7.60M521.43 98.50v7.60M517.82 98.69l7.22 7.22M517.82 105.91l7.22 -7.22M521.21 102.30h7.60M525.01 98.50v7.60M521.40 98.69l7.22 7.22M521.40 105.91l7.22 -7.22M524.78 102.30h7.60M528.58 98.50v7.60M524.97 98.69l7.22 7.22M524.97 105.91l7.22 -7.22M528.35 102.30h7.60M532.15 98.50v7.60M528.54 98.69l7.22 7.22M528.54 105.91l7.22 -7.22M531.93 102.30h7.60M535.73 98.50v7.60M532.12 98.69l7.22 7.22M532.12 105.91l7.22 -7.22M535.50 102.30h7.60M539.30 98.50v7.60M535.69 98.69l7.22 7.22M535.69 105.91l7.22 -7.22M539.07 102.30h7.60M542.87 98.50v7.60M539.26 98.69l7.22 7.22M539.26 105.91l7.22 -7.22M542.65 102.30h7.60M546.45 98.50v7.60M542.84 98.69l7.22 7.22M542.84 105.91l7.22 -7.22M546.22 102.30h7.60M550.02 98.50v7.60M546.41 98.69l7.22 7.22M546.41 105.91l7.22 -7.22M549.79 102.30h7.60M553.59 98.50v7.60M549.98 98.69l7.22 7.22M549.98 105.91l7.22 -7.22M553.37 102.30h7.60M557.17 98.50v7.60M553.56 98.69l7.22 7.22M553.56 105.91l7.22 -7.22M556.94 102.30h7.60M560.74 98.50v7.60M557.13 98.69l7.22 7.22M557.13 105.91l7.22 -7.22M560.51 102.30h7.60M564.31 98.50v7.60M560.70 98.69l7.22 7.22M560.70 105.91l7.22 -7.22M564.09 102.30h7.60M567.89 98.50v7.60M564.28 98.69l7.22 7.22M564.28 105.91l7.22 -7.22M567.66 102.30h7.60M571.46 98.50v7.60M567.85 98.69l7.22 7.22M567.85 105.91l7.22 -7.22M571.23 102.30h7.60M575.03 98.50v7.60M571.42 98.69l7.22 7.22M571.42 105.91l7.22 -7.22M574.81 102.30h7.60M578.61 98.50v7.60M575.00 98.69l7.22 7.22M575.00 105.91l7.22 -7.22M578.38 102.30h7.60M582.18 98.50v7.60M578.57 98.69l7.22 7.22M578.57 105.91l7.22 -7.22M581.95 102.30h7.60M585.75 98.50v7.60M582.14 98.69l7.22 7.22M582.14 105.91l7.22 -7.22M585.52 102.30h7.60M589.32 98.50v7.60M585.71 98.69l7.22 7.22M585.71 105.91l7.22 -7.22M589.10 102.30h7.60M592.90 98.50v7.60M589.29 98.69l7.22 7.22M589.29 105.91l7.22 -7.22M592.67 102.30h7.60M596.47 98.50v7.60M592.86 98.69l7.22 7.22M592.86 105.91l7.22 -7.22M596.24 102.30h7.60M600.04 98.50v7.60M596.43 98.69l7.22 7.22M596.43 105.91l7.22 -7.22M599.82 102.30h7.60M603.62 98.50v7.60M600.01 98.69l7.22 7.22M600.01 105.91l7.22 -7.22M603.39 102.30h7.60M607.19 98.50v7.60M603.58 98.69l7.22 7.22M603.58 105.91l7.22 -7.22M606.96 102.30h7.60M610.76 98.50v7.60M607.15 98.69l7.22 7.22M607.15 105.91l7.22 -7.22M610.54 102.30h7.60M614.34 98.50v7.60M610.73 98.69l7.22 7.22M610.73 105.91l7.22 -7.22M614.11 102.30h7.60M617.91 98.50v7.60M614.30 98.69l7.22 7.22M614.30 105.91l7.22 -7.22M617.68 102.30h7.60M621.48 98.50v7.60M617.87 98.69l7.22 7.22M617.87 105.91l7.22 -7.22M621.26 102.30h7.60M625.06 98.50v7.60M621.45 98.69l7.22 7.22M621.45 105.91l7.22 -7.22M624.83 102.30h7.60M628.63 98.50v7.60M625.02 98.69l7.22 7.22M625.02 105.91l7.22 -7.22M628.40 102.30h7.60M632.20 98.50v7.60M628.59 98.69l7.22 7.22M628.59 105.91l7.22 -7.22M631.98 102.30h7.60M635.78 98.50v7.60M632.17 98.69l7.22 7.22M632.17 105.91l7.22 -7.22M635.55 102.30h7.60M639.35 98.50v7.60M635.74 98.69l7.22 7.22M635.74 105.91l7.22 -7.22M639.12 102.30h7.60M642.92 98.50v7.60M639.31 98.69l7.22 7.22M639.31 105.91l7.22 -7.22M642.70 102.30h7.60M646.50 98.50v7.60M642.89 98.69l7.22 7.22M642.89 105.91l7.22 -7.22M646.27 102.30h7.60M650.07 98.50v7.60M646.46 98.69l7.22 7.22M646.46 105.91l7.22 -7.22M649.84 102.30h7.60M653.64 98.50v7.60M650.03 98.69l7.22 7.22M650.03 105.91l7.22 -7.22M653.42 102.30h7.60M657.22 98.50v7.60M653.61 98.69l7.22 7.22M653.61 105.91l7.22 -7.22M656.99 102.30h7.60M660.79 98.50v7.60M657.18 98.69l7.22 7.22M657.18 105.91l7.22 -7.22M660.56 102.30h7.60M664.36 98.50v7.60M660.75 98.69l7.22 7.22M660.75 105.91l7.22 -7.22M664.14 102.30h7.60M667.94 98.50v7.60M664.33 98.69l7.22 7.22M664.33 105.91l7.22 -7.22M667.71 102.30h7.60M671.51 98.50v7.60M667.90 98.69l7.22 7.22M667.90 105.91l7.22 -7.22M671.28 102.30h7.60M675.08 98.50v7.60M671.47 98.69l7.22 7.22M671.47 105.91l7.22 -7.22M674.86 102.30h7.60M678.66 98.50v7.60M675.05 98.69l7.22 7.22M675.05 105.91l7.22 -7.22M678.43 102.30h7.60M682.23 98.50v7.60M678.62 98.69l7.22 7.22M678.62 105.91l7.22 -7.22M682.00 102.30h7.60M685.80 98.50v7.60M682.19 98.69l7.22 7.22M682.19 105.91l7.22 -7.22M685.58 102.30h7.60M689.38 98.50v7.60M685.77 98.69l7.22 7.22M685.77 105.91l7.22 -7.22M689.15 102.30h7.60M692.95 98.50v7.60M689.34 98.69l7.22 7.22M689.34 105.91l7.22 -7.22M692.72 102.30h7.60M696.52 98.50v7.60M692.91 98.69l7.22 7.22M692.91 105.91l7.22 -7.22M696.30 102.30h7.60M700.10 98.50v7.60M696.49 98.69l7.22 7.22M696.49 105.91l7.22 -7.22M699.87 102.30h7.60M703.67 98.50v7.60M700.06 98.69l7.22 7.22M700.06 105.91l7.22 -7.22M703.44 102.30h7.60M707.24 98.50v7.60M703.63 98.69l7.22 7.22M703.63 105.91l7.22 -7.22M707.02 102.30h7.60M710.82 98.50v7.60M707.21 98.69l7.22 7.22M707.21 105.91l7.22 -7.22M710.59 102.30h7.60M714.39 98.50v7.60M710.78 98.69l7.22 7.22M710.78 105.91l7.22 -7.22M714.16 102.30h7.60M717.96 98.50v7.60M714.35 98.69l7.22 7.22M714.35 105.91l7.22 -7.22M717.74 102.30h7.60M721.53 98.50v7.60M717.92 98.69l7.22 7.22M717.92 105.91l7.22 -7.22M721.31 102.30h7.60M725.11 98.50v7.60M721.50 98.69l7.22 7.22M721.50 105.91l7.22 -7.22M724.88 102.30h7.60M728.68 98.50v7.60M725.07 98.69l7.22 7.22M725.07 105.91l7.22 -7.22M728.45 102.30h7.60M732.25 98.50v7.60M728.64 98.69l7.22 7.22M728.64 105.91l7.22 -7.22M732.03 102.30h7.60M735.83 98.50v7.60M732.22 98.69l7.22 7.22M732.22 105.91l7.22 -7.22M735.60 102.30h7.60M739.40 98.50v7.60M735.79 98.69l7.22 7.22M735.79 105.91l7.22 -7.22M739.17 102.30h7.60M742.97 98.50v7.60M739.36 98.69l7.22 7.22M739.36 105.91l7.22 -7.22M742.75 102.30h7.60M746.55 98.50v7.60M742.94 98.69l7.22 7.22M742.94 105.91l7.22 -7.22M746.32 102.30h7.60M750.12 98.50v7.60M746.51 98.69l7.22 7.22M746.51 105.91l7.22 -7.22M749.89 102.30h7.60M753.69 98.50v7.60M750.08 98.69l7.22 7.22M750.08 105.91l7.22 -7.22M753.47 102.30h7.60M757.27 98.50v7.60M753.66 98.69l7.22 7.22M753.66 105.91l7.22 -7.22M757.04 102.30h7.60M760.84 98.50v7.60M757.23 98.69l7.22 7.22M757.23 105.91l7.22 -7.22M760.61 102.30h7.60M764.41 98.50v7.60M760.80 98.69l7.22 7.22M760.80 105.91l7.22 -7.22M764.19 102.30h7.60M767.99 98.50v7.60M764.38 98.69l7.22 7.22M764.38 105.91l7.22 -7.22M767.76 102.30h7.60M771.56 98.50v7.60M767.95 98.69l7.22 7.22M767.95 105.91l7.22 -7.22M771.33 102.30h7.60M775.13 98.50v7.60M771.52 98.69l7.22 7.22M771.52 105.91l7.22 -7.22M774.91 102.30h7.60M778.71 98.50v7.60M775.10 98.69l7.22 7.22M775.10 105.91l7.22 -7.22M778.48 102.30h7.60M782.28 98.50v7.60M778.67 98.69l7.22 7.22M778.67 105.91l7.22 -7.22M782.05 102.30h7.60M785.85 98.50v7.60M782.24 98.69l7.22 7.22M782.24 105.91l7.22 -7.22M785.63 102.30h7.60M789.43 98.50v7.60M785.82 98.69l7.22 7.22M785.82 105.91l7.22 -7.22M789.20 102.30h7.60M793.00 98.50v7.60M789.39 98.69l7.22 7.22M789.39 105.91l7.22 -7.22M724.60 475.20h7.60M728.40 471.40v7.60M724.79 471.59l7.22 7.22M724.79 478.81l7.22 -7.22" stroke="#0000ff" stroke-width="1" fill="none"/>
<path d="M78.35 149.15H793.00M690.5 503.3H766.4" stroke="#ffa500" stroke-width="1.8" fill="none"/>
<g transform="translate(673.30 456.20)"><text transform="translate(-148.61 0) scale(1 1)" font-size="28.6">w</text><text transform="translate(-127.96 0) scale(1 1.027)" font-size="28.6">0</text><path transform="translate(-112.05 0) scale(0.02860 -0.02860)" d="M60 100H546V172H60ZM60 334H546V406H60Z"/><text transform="translate(-95.35 0) scale(1 1.027)" font-size="28.6">0</text><text transform="translate(-79.45 0) scale(1 1)" font-size="28.6">.</text><text transform="translate(-71.50 0) scale(1 1.027)" font-size="28.6">5</text><text transform="translate(-55.59 0) scale(1 1)" font-size="28.6">&#160;mm</text></g>
<g transform="translate(673.30 483.80)"><text transform="translate(-148.61 0) scale(1 1)" font-size="28.6">w</text><text transform="translate(-127.96 0) scale(1 1.027)" font-size="28.6">0</text><path transform="translate(-112.05 0) scale(0.02860 -0.02860)" d="M60 100H546V172H60ZM60 334H546V406H60Z"/><text transform="translate(-95.35 0) scale(1 1.027)" font-size="28.6">0</text><text transform="translate(-79.45 0) scale(1 1)" font-size="28.6">.</text><text transform="translate(-71.50 0) scale(1 1.027)" font-size="28.6">4</text><text transform="translate(-55.59 0) scale(1 1)" font-size="28.6">&#160;mm</text></g>
<g transform="translate(673.30 512.40)"><text transform="translate(-504.68 0) scale(0.9983 1)" font-size="28.6">power&#160;ratio&#160;inside&#160;the&#160;spot&#160;range&#160;for&#160;GB</text></g>
<rect x="78.35" y="16.30" width="714.65" height="508.40" fill="none" stroke="#000" stroke-width="1.3" stroke-linejoin="round"/>
</svg></body></html>
